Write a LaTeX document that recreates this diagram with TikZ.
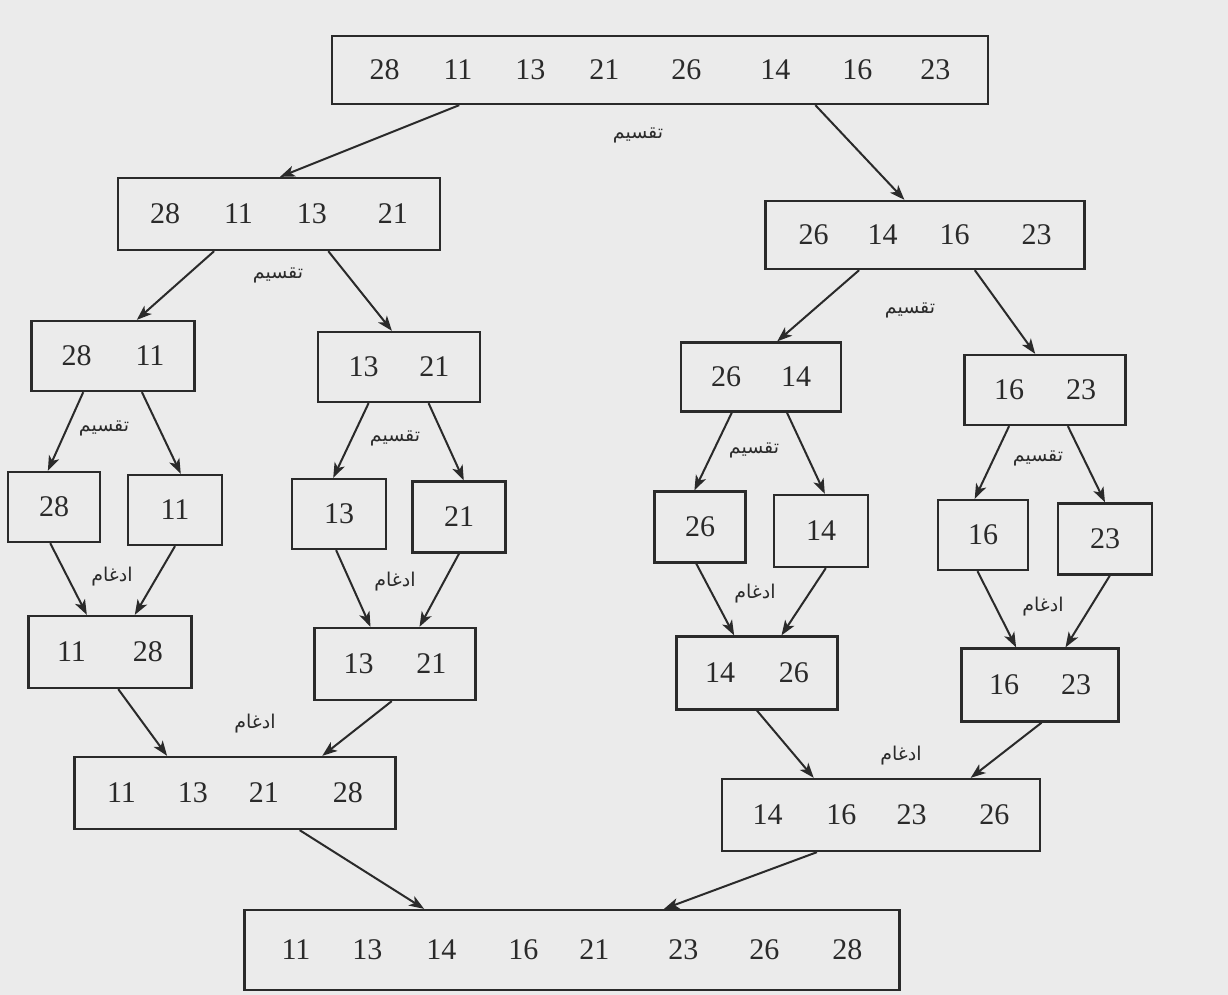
\documentclass[tikz,border=0pt]{standalone}
\usepackage{fontspec}
\setmainfont{Liberation Serif}
\newfontfamily\arabicfont[Script=Arabic]{DejaVu Sans}
\TeXXeTstate=1
\usetikzlibrary{calc,arrows.meta}
\definecolor{paper}{HTML}{EBEBEB}
\definecolor{ink}{HTML}{2A2A2A}
\tikzset{
  box/.style={draw=ink, line width=2.3pt, inner sep=0pt, text=ink,
    font=\fontsize{30}{31}\selectfont},
  link/.style={draw=ink, line width=2pt, -{Stealth[length=15pt,width=11pt,inset=4pt]}},
  lbl/.style={text=ink, inner sep=0pt, font=\arabicfont\fontsize{19}{20}\selectfont}
}
\newcommand{\divlbl}{\beginR تقسیم\endR}
\newcommand{\mrglbl}{\beginR ادغام\endR}
\begin{document}
\begin{tikzpicture}[x=1pt,y=-1pt]
\fill[paper] (0,0) rectangle (1228,995);
\useasboundingbox (0,0) rectangle (1228,995);

% level 0
\node[box, minimum width=656pt, minimum height=68pt] (r) at (660,70)
  {28\hspace{44pt}11\hspace{43pt}13\hspace{44pt}21\hspace{52pt}26\hspace{59pt}14\hspace{52pt}16\hspace{48pt}23};

% level 1
\node[box, minimum width=322pt, minimum height=72pt] (a) at (279,214)
  {28\hspace{44pt}11\hspace{44pt}13\hspace{51pt}21};
\node[box, minimum width=319pt, minimum height=68pt] (b) at (925,235)
  {26\hspace{39pt}14\hspace{42pt}16\hspace{52pt}23};

% level 2
\node[box, minimum width=163pt, minimum height=70pt] (aa) at (113,356) {28\hspace{44pt}11};
\node[box, minimum width=162pt, minimum height=70pt] (ab) at (399,367) {13\hspace{41pt}21};
\node[box, minimum width=160pt, minimum height=69pt] (ba) at (761,377) {26\hspace{40pt}14};
\node[box, minimum width=161pt, minimum height=70pt] (bb) at (1045,390) {16\hspace{42pt}23};

% level 3 (single elements)
\node[box, minimum width=92pt, minimum height=70pt] (s1) at (54,507) {28};
\node[box, minimum width=94pt, minimum height=70pt] (s2) at (175,510) {11};
\node[box, minimum width=94pt, minimum height=70pt] (s3) at (339,514) {13};
\node[box, minimum width=93pt, minimum height=71pt] (s4) at (459,517) {21};
\node[box, minimum width=91pt, minimum height=71pt] (s5) at (700,527) {26};
\node[box, minimum width=94pt, minimum height=72pt] (s6) at (821,531) {14};
\node[box, minimum width=90pt, minimum height=70pt] (s7) at (983,535) {16};
\node[box, minimum width=94pt, minimum height=71pt] (s8) at (1105,539) {23};

% level 4 (merged pairs)
\node[box, minimum width=163pt, minimum height=72pt] (m1) at (110,652) {11\hspace{47pt}28};
\node[box, minimum width=161pt, minimum height=72pt] (m2) at (395,664) {13\hspace{43pt}21};
\node[box, minimum width=161pt, minimum height=73pt] (m3) at (757,673) {14\hspace{44pt}26};
\node[box, minimum width=157pt, minimum height=73pt] (m4) at (1040,685) {16\hspace{42pt}23};

% level 5 (merged quadruples)
\node[box, minimum width=321pt, minimum height=72pt] (q1) at (235,793)
  {11\hspace{42pt}13\hspace{41pt}21\hspace{54pt}28};
\node[box, minimum width=318pt, minimum height=72pt] (q2) at (881,815)
  {14\hspace{44pt}16\hspace{40pt}23\hspace{53pt}26};

% sorted result
\node[box, minimum width=655pt, minimum height=80pt] (f) at (572,950)
  {11\hspace{42pt}13\hspace{44pt}14\hspace{52pt}16\hspace{41pt}21\hspace{59pt}23\hspace{51pt}26\hspace{53pt}28};

% split arrows
\draw[link] ($(r.south west)!0.195!(r.south east)$) -- ($(a.north west)!0.503!(a.north east)$);
\draw[link] ($(r.south west)!0.736!(r.south east)$) -- ($(b.north west)!0.436!(b.north east)$);
\draw[link] ($(a.south west)!0.30!(a.south east)$) -- ($(aa.north west)!0.644!(aa.north east)$);
\draw[link] ($(a.south west)!0.652!(a.south east)$) -- ($(ab.north west)!0.457!(ab.north east)$);
\draw[link] ($(b.south west)!0.295!(b.south east)$) -- ($(ba.north west)!0.60!(ba.north east)$);
\draw[link] ($(b.south west)!0.655!(b.south east)$) -- ($(bb.north west)!0.44!(bb.north east)$);
\draw[link] ($(aa.south west)!0.32!(aa.south east)$) -- ($(s1.north west)!0.435!(s1.north east)$);
\draw[link] ($(aa.south west)!0.675!(aa.south east)$) -- ($(s2.north west)!0.56!(s2.north east)$);
\draw[link] ($(ab.south west)!0.315!(ab.south east)$) -- ($(s3.north west)!0.44!(s3.north east)$);
\draw[link] ($(ab.south west)!0.68!(ab.south east)$) -- ($(s4.north west)!0.55!(s4.north east)$);
\draw[link] ($(ba.south west)!0.32!(ba.south east)$) -- ($(s5.north west)!0.44!(s5.north east)$);
\draw[link] ($(ba.south west)!0.66!(ba.south east)$) -- ($(s6.north west)!0.54!(s6.north east)$);
\draw[link] ($(bb.south west)!0.28!(bb.south east)$) -- ($(s7.north west)!0.41!(s7.north east)$);
\draw[link] ($(bb.south west)!0.64!(bb.south east)$) -- ($(s8.north west)!0.50!(s8.north east)$);

% merge arrows
\draw[link] ($(s1.south west)!0.46!(s1.south east)$) -- ($(m1.north west)!0.36!(m1.north east)$);
\draw[link] ($(s2.south west)!0.50!(s2.south east)$) -- ($(m1.north west)!0.65!(m1.north east)$);
\draw[link] ($(s3.south west)!0.47!(s3.south east)$) -- ($(m2.north west)!0.35!(m2.north east)$);
\draw[link] ($(s4.south west)!0.50!(s4.south east)$) -- ($(m2.north west)!0.65!(m2.north east)$);
\draw[link] ($(s5.south west)!0.46!(s5.south east)$) -- ($(m3.north west)!0.36!(m3.north east)$);
\draw[link] ($(s6.south west)!0.55!(s6.south east)$) -- ($(m3.north west)!0.65!(m3.north east)$);
\draw[link] ($(s7.south west)!0.44!(s7.south east)$) -- ($(m4.north west)!0.35!(m4.north east)$);
\draw[link] ($(s8.south west)!0.55!(s8.south east)$) -- ($(m4.north west)!0.66!(m4.north east)$);
\draw[link] ($(m1.south west)!0.55!(m1.south east)$) -- ($(q1.north west)!0.29!(q1.north east)$);
\draw[link] ($(m2.south west)!0.48!(m2.south east)$) -- ($(q1.north west)!0.77!(q1.north east)$);
\draw[link] ($(m3.south west)!0.50!(m3.south east)$) -- ($(q2.north west)!0.29!(q2.north east)$);
\draw[link] ($(m4.south west)!0.51!(m4.south east)$) -- ($(q2.north west)!0.78!(q2.north east)$);
\draw[link] ($(q1.south west)!0.70!(q1.south east)$) -- ($(f.north west)!0.275!(f.north east)$);
\draw[link] ($(q2.south west)!0.30!(q2.south east)$) -- ($(f.north west)!0.64!(f.north east)$);

% labels
\node[lbl] (t0) at (638,135) {\divlbl};
\node[lbl] (t1) at (278,275) {\divlbl};
\node[lbl] (t2) at (910,310) {\divlbl};
\node[lbl] (t3) at (104,428) {\divlbl};
\node[lbl] (t4) at (395,438) {\divlbl};
\node[lbl] (t5) at (754,450) {\divlbl};
\node[lbl] (t6) at (1038,458) {\divlbl};
\node[lbl] (g1) at (112,577) {\mrglbl};
\node[lbl] (g2) at (395,582) {\mrglbl};
\node[lbl] (g3) at (755,594) {\mrglbl};
\node[lbl] (g4) at (1043,607) {\mrglbl};
\node[lbl] (g5) at (255,724) {\mrglbl};
\node[lbl] (g6) at (901,756) {\mrglbl};
\end{tikzpicture}
\end{document}
